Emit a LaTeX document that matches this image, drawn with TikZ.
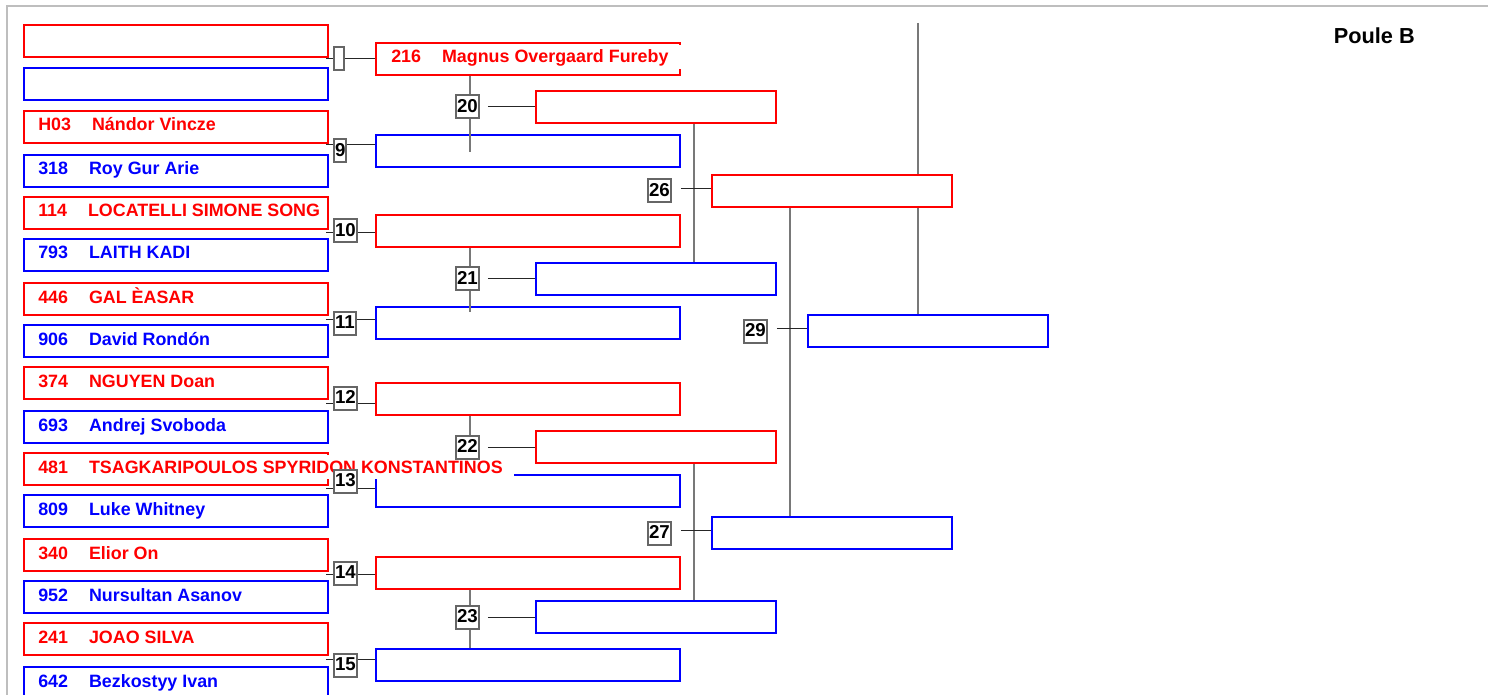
\documentclass[tikz,border=0pt]{standalone}
\usepackage{fontspec}
\setmainfont{Liberation Sans}
\usetikzlibrary{calc}
\newdimen\PX \PX=0.75pt
\definecolor{pred}{RGB}{255,0,0}
\definecolor{pblue}{RGB}{0,0,255}
\definecolor{bgray}{RGB}{102,102,102}
\definecolor{vgray}{RGB}{120,120,120}
\definecolor{framegray}{RGB}{190,190,190}
\newcommand\pentry[3][13]{#2\hspace{21\PX}#3\kern#1\PX\null}
\begin{document}
\begin{tikzpicture}[x=0.75pt, y=-0.75pt,
  bx/.style={draw=#1, line width=2\PX, fill=white, inner sep=0pt, minimum height=32\PX, anchor=north west},
  wide/.style={minimum width=304\PX},
  narrow/.style={minimum width=240\PX},
  redbox/.style={bx=pred},
  bluebox/.style={bx=pblue},
  lab/.style={anchor=base west, inner sep=0pt, text height=18\PX, text depth=6\PX, fill=white, font=\fontsize{13.4}{16}\selectfont\bfseries},
  rlab/.style={lab, text=pred},
  blab/.style={lab, text=pblue},
  badge/.style={draw=bgray, line width=2\PX, fill=white, inner xsep=1\PX, inner ysep=0pt, minimum height=23\PX, minimum width=10\PX, text height=13.5\PX, text depth=2\PX, anchor=west, font=\fontsize{14}{16}\selectfont\bfseries},
  hl/.style={draw=black!85, line width=1\PX},
  vl/.style={draw=vgray, line width=1.6\PX},
  titlestyle/.style={anchor=base east, inner sep=0pt, font=\fontsize{16.3}{18}\selectfont\bfseries}
]
\useasboundingbox (0,0) rectangle (1488,695);
\draw[framegray, line width=2\PX] (6.5,695) -- (6.5,6) -- (1488,6);

% column 1
\node[redbox, wide]  (p1)  at (23,24) {};
\node[bluebox, wide] (p2)  at (23,67) {};
\node[redbox, wide]  (p3)  at (23,110) {};
\node[bluebox, wide] (p4)  at (23,154) {};
\node[redbox, wide]  (p5)  at (23,196) {};
\node[bluebox, wide] (p6)  at (23,238) {};
\node[redbox, wide]  (p7)  at (23,282) {};
\node[bluebox, wide] (p8)  at (23,324) {};
\node[redbox, wide]  (p9)  at (23,366) {};
\node[bluebox, wide] (p10) at (23,410) {};
\node[redbox, wide]  (p11) at (23,452) {};
\node[bluebox, wide] (p12) at (23,494) {};
\node[redbox, wide]  (p13) at (23,538) {};
\node[bluebox, wide] (p14) at (23,580) {};
\node[redbox, wide]  (p15) at (23,622) {};
\node[bluebox, wide] (p16) at (23,666) {};

% column 2
\node[redbox, wide]  (c1) at (375,42) {};
\node[bluebox, wide] (c2) at (375,134) {};
\node[redbox, wide]  (c3) at (375,214) {};
\node[bluebox, wide] (c4) at (375,306) {};
\node[redbox, wide]  (c5) at (375,382) {};
\node[bluebox, wide] (c6) at (375,474) {};
\node[redbox, wide]  (c7) at (375,556) {};
\node[bluebox, wide] (c8) at (375,648) {};

% column 3
\node[redbox, narrow]  (d1) at (535,90) {};
\node[bluebox, narrow] (d2) at (535,262) {};
\node[redbox, narrow]  (d3) at (535,430) {};
\node[bluebox, narrow] (d4) at (535,600) {};

% column 4
\node[redbox, narrow]  (e1) at (711,174) {};
\node[bluebox, narrow] (e2) at (711,516) {};

% column 5
\node[bluebox, narrow] (f1) at (807,314) {};

% connectors column 1 -> column 2
\coordinate (m1) at (326,59);
\coordinate (m2) at (326,145);
\coordinate (m3) at (326,233);
\coordinate (m4) at (326,319);
\coordinate (m5) at (326,403);
\coordinate (m6) at (326,488);
\coordinate (m7) at (326,574);
\coordinate (m8) at (326,659);
\draw[hl] (m1) -- (m1 -| c1.west);
\draw[hl] (m2) -- (m2 -| c2.west);
\draw[hl] (m3) -- (m3 -| c3.west);
\draw[hl] (m4) -- (m4 -| c4.west);
\draw[hl] (m5) -- (m5 -| c5.west);
\draw[hl] (m6) -- (m6 -| c6.west);
\draw[hl] (m7) -- (m7 -| c7.west);
\draw[hl] (m8) -- (m8 -| c8.west);

% connectors column 2 -> column 3
\coordinate (xa) at (470,0);
\draw[vl] (xa |- c1.south) -- ($(xa |- c2.north)+(0,18)$);
\draw[vl] (xa |- c3.south) -- ($(xa |- c4.north)+(0,6)$);
\draw[vl] (xa |- c5.south) -- (xa |- c6.north);
\draw[vl] (xa |- c7.south) -- (xa |- c8.north);

% connectors column 3 -> column 4
\coordinate (xb) at (694,0);
\draw[vl] (xb |- d1.south) -- (xb |- d2.north);
\draw[vl] (xb |- d3.south) -- (xb |- d4.north);

% connectors column 4 -> column 5
\coordinate (xc) at (790,0);
\draw[vl] (xc |- e1.south) -- (xc |- e2.north);

% final
\coordinate (fin) at (918,23);
\draw[vl] (fin) -- (fin |- e1.north);
\draw[vl] (fin |- e1.south) -- (fin |- f1.north);

% labels
\node[rlab] (lc1) at ($(c1.north west)+(16,21)$) {\pentry[16]{216}{Magnus Overgaard Fureby}};
\node[rlab] (l3)  at ($(p3.north west)+(15,21)$)  {\pentry{H03}{Nándor Vincze}};
\node[blab] (l4)  at ($(p4.north west)+(15,21)$)  {\pentry{318}{Roy Gur Arie}};
\node[rlab] (l5)  at ($(p5.north west)+(15,21)$)  {\pentry[4]{114}{LOCATELLI SIMONE SONG}};
\node[blab] (l6)  at ($(p6.north west)+(15,21)$)  {\pentry{793}{LAITH KADI}};
\node[rlab] (l7)  at ($(p7.north west)+(15,21)$)  {\pentry{446}{GAL ÈASAR}};
\node[blab] (l8)  at ($(p8.north west)+(15,21)$)  {\pentry{906}{David Rondón}};
\node[rlab] (l9)  at ($(p9.north west)+(15,21)$)  {\pentry{374}{NGUYEN Doan}};
\node[blab] (l10) at ($(p10.north west)+(15,21)$) {\pentry{693}{Andrej Svoboda}};
\node[rlab] (l11) at ($(p11.north west)+(15,21)$) {\pentry[11]{481}{TSAGKARIPOULOS SPYRIDON KONSTANTINOS}};
\node[blab] (l12) at ($(p12.north west)+(15,21)$) {\pentry{809}{Luke Whitney}};
\node[rlab] (l13) at ($(p13.north west)+(15,21)$) {\pentry{340}{Elior On}};
\node[blab] (l14) at ($(p14.north west)+(15,21)$) {\pentry{952}{Nursultan Asanov}};
\node[rlab] (l15) at ($(p15.north west)+(15,21)$) {\pentry{241}{JOAO SILVA}};
\node[blab] (l16) at ($(p16.north west)+(15,21)$) {\pentry{642}{Bezkostyy Ivan}};

% badges
\coordinate (ga) at (333,0);
\node[badge] (g8)  at (ga |- c1.west) {};
\node[badge] (g9)  at (ga |- c2.west) {9};
\node[badge] (g10) at (ga |- c3.west) {10};
\node[badge] (g11) at (ga |- c4.west) {11};
\node[badge] (g12) at ($(ga |- c5.west)+(0,-1)$) {12};
\node[badge] (g13) at ($(ga |- c6.west)+(0,-10)$) {13};
\node[badge] (g14) at (ga |- c7.west) {14};
\node[badge] (g15) at (ga |- c8.west) {15};
\coordinate (gb) at (455,0);
\node[badge] (g20) at (gb |- d1.west) {20};
\node[badge] (g21) at (gb |- d2.west) {21};
\node[badge] (g22) at (gb |- d3.west) {22};
\node[badge] (g23) at (gb |- d4.west) {23};
\coordinate (gc) at (647,0);
\node[badge] (g26) at (gc |- e1.west) {26};
\node[badge] (g27) at (gc |- e2.west) {27};
\coordinate (gd) at (743,0);
\node[badge] (g29) at (gd |- f1.west) {29};

\draw[hl] ([xshift=8\PX]g20.east) -- (d1.west);
\draw[hl] ([xshift=8\PX]g21.east) -- (d2.west);
\draw[hl] ([xshift=8\PX]g22.east) -- (d3.west);
\draw[hl] ([xshift=8\PX]g23.east) -- (d4.west);
\draw[hl] ([xshift=9\PX,yshift=2.2pt]g26.east) -- ([yshift=2.2pt]e1.west);
\draw[hl] ([xshift=9\PX,yshift=2.2pt]g27.east) -- ([yshift=2.2pt]e2.west);
\draw[hl] ([xshift=9\PX,yshift=2.2pt]g29.east) -- ([yshift=2.2pt]f1.west);

\node[titlestyle] (title) at (1415,44) {Poule B};
\end{tikzpicture}
\end{document}
